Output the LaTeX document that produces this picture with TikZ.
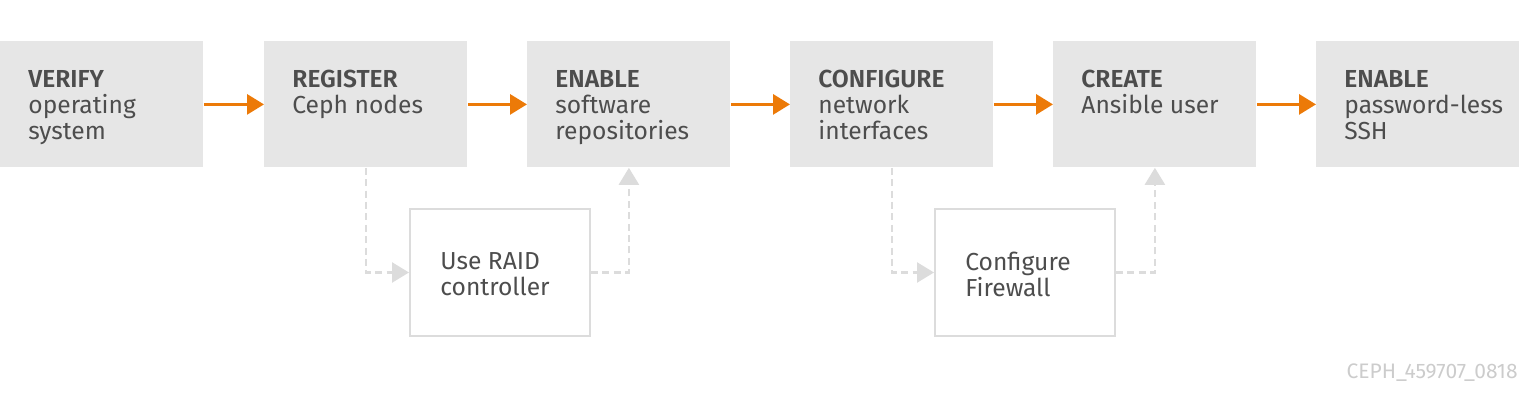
\documentclass[tikz,border=0pt]{standalone}
\usepackage{fontspec}
\setmainfont{Fira Sans}[BoldFont={Fira Sans SemiBold}]
\usetikzlibrary{arrows.meta}

\definecolor{boxgray}{HTML}{E6E6E6}
\definecolor{linegray}{HTML}{DCDCDC}
\definecolor{textgray}{HTML}{4D4D4D}
\definecolor{markgray}{HTML}{CCCCCC}
\definecolor{cephorange}{HTML}{EC7A08}

\begin{document}
\begin{tikzpicture}[x=0.5pt,y=-0.5pt,
    stepbox/.style={fill=boxgray, anchor=north west, inner sep=0,
        minimum width=101.5pt, minimum height=63pt},
    sidebox/.style={draw=linegray, line width=1pt, fill=white, anchor=north west,
        inner sep=0, minimum width=90pt, minimum height=63.5pt},
    steptext/.style={anchor=north west, inner sep=0, align=left, text=textgray,
        font=\fontsize{12.3}{13}\selectfont},
    flow/.style={draw=cephorange, line width=1.5pt,
        -{Triangle[length=8.5pt,width=10pt]}},
    option/.style={draw=linegray, line width=1.2pt, dash pattern=on 3.5pt off 2.2pt,
        -{Triangle[length=8.5pt,width=10pt]}},
  ]
    \useasboundingbox (0,0) rectangle (1520,416);

    % main steps
    \node[stepbox] (verify)    at (0,41) {};
    \node[stepbox] (register)  at (264,41) {};
    \node[stepbox] (enable)    at (527,41) {};
    \node[stepbox] (configure) at (790,41) {};
    \node[stepbox] (create)    at (1053,41) {};
    \node[stepbox] (ssh)       at (1316,41) {};

    \node[steptext] (verifytext) at ([shift={(28,29)}]verify.north west)
        {\textbf{VERIFY}\\operating\\system};
    \node[steptext] (registertext) at ([shift={(28,29)}]register.north west)
        {\textbf{REGISTER}\\Ceph nodes};
    \node[steptext] (enabletext) at ([shift={(28,29)}]enable.north west)
        {\textbf{ENABLE}\\software\\repositories};
    \node[steptext] (configuretext) at ([shift={(28,29)}]configure.north west)
        {\textbf{CONFIGURE}\\network\\interfaces};
    \node[steptext] (createtext) at ([shift={(28,29)}]create.north west)
        {\textbf{CREATE}\\Ansible user};
    \node[steptext] (sshtext) at ([shift={(28,29)}]ssh.north west)
        {\textbf{ENABLE}\\password-less\\SSH};

    % optional steps
    \node[sidebox] (raid)     at (409,208) {};
    \node[sidebox] (firewall) at (934,208) {};

    \node[steptext] (raidtext) at ([shift={(31,44)}]raid.north west)
        {Use RAID\\controller};
    \node[steptext] (firewalltext) at ([shift={(31,44)}]firewall.north west)
        {Configure\\Firewall};

    % orange arrows
    \draw[flow] (verify.east) -- (register.west);
    \draw[flow] (register.east) -- (enable.west);
    \draw[flow] (enable.east) -- (configure.west);
    \draw[flow] (configure.east) -- (create.west);
    \draw[flow] (create.east) -- (ssh.west);

    % dashed detours
    \draw[option] (register.south) |- (raid.west);
    \draw[option] (raid.east) -| (enable.south);
    \draw[option] (configure.south) |- (firewall.west);
    \draw[option] (firewall.east) -| (create.south);

    \node[anchor=base east, inner sep=0, text=markgray, font=\fontsize{10.5}{12}\selectfont]
        (imageid) at (1518,379) {CEPH\_459707\_0818};
\end{tikzpicture}
\end{document}
